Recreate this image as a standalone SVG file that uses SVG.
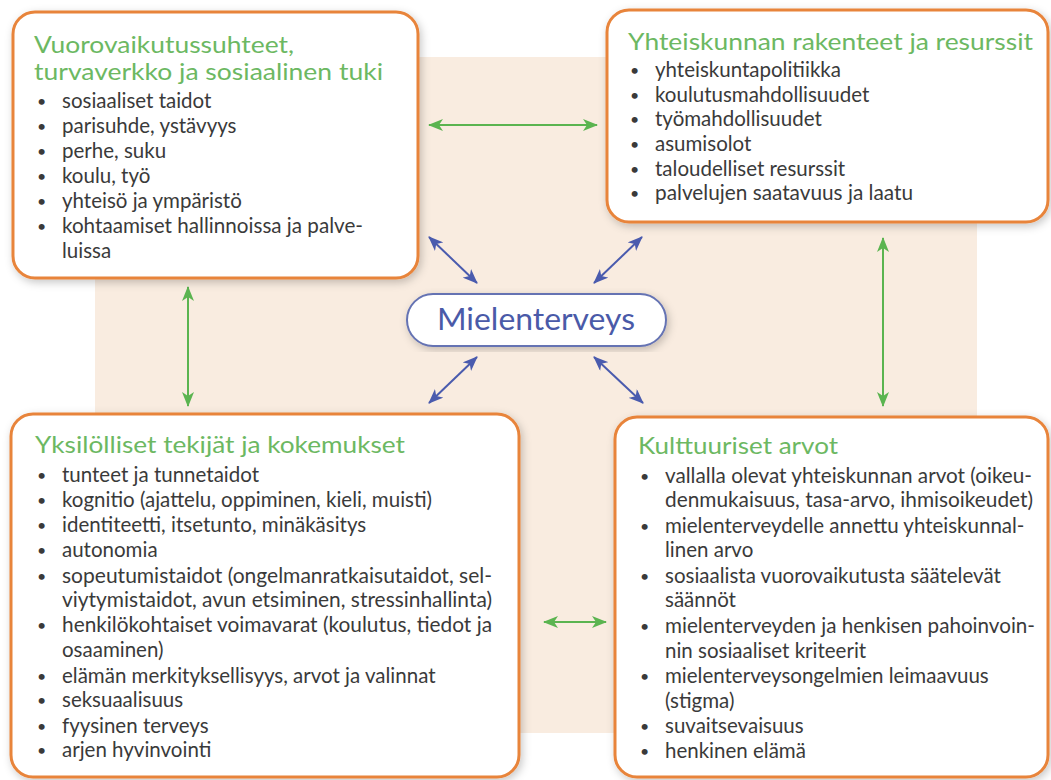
<svg xmlns="http://www.w3.org/2000/svg" width="1051" height="780" viewBox="0 0 1051 780">
<style>
.box{fill:#fff;stroke:#E8843A;stroke-width:3;filter:url(#sh)}
.title{font-family:Lato,"Open Sans",sans-serif;font-size:24px;fill:#6CB862}
.t{font-family:Lato,"Open Sans",sans-serif;font-size:20.5px;fill:#3a3a3a}
.t2{font-family:Lato,"Open Sans",sans-serif;font-size:20.5px;fill:#3a3a3a}
.bl{font-size:16px}
.g{stroke:#5BB450;stroke-width:2;fill:none;marker-start:url(#ga);marker-end:url(#ga)}
.b{stroke:#4A5BAE;stroke-width:2;fill:none;marker-start:url(#ba);marker-end:url(#ba)}
</style>
<defs>
<filter id="sh" x="-10%" y="-10%" width="120%" height="120%">
<feDropShadow dx="2" dy="3" stdDeviation="4" flood-color="#000" flood-opacity="0.22"/>
</filter>
<marker id="ga" viewBox="0 0 15 12" refX="14" refY="6" markerWidth="15" markerHeight="12" markerUnits="userSpaceOnUse" orient="auto-start-reverse">
<path d="M0,0 L15,6 L0,12 L4,6 Z" fill="#5BB450"/>
</marker>
<marker id="ba" viewBox="0 0 15 12" refX="14" refY="6" markerWidth="15" markerHeight="12" markerUnits="userSpaceOnUse" orient="auto-start-reverse">
<path d="M0,0 L15,6 L0,12 L4,6 Z" fill="#4A5BAE"/>
</marker>
</defs>
<rect x="0" y="0" width="1051" height="780" fill="#fff"/>
<rect x="95" y="57" width="882" height="676" fill="#F9ECE0"/>

<g id="connectors">
<line class="g" x1="429" y1="125" x2="597" y2="125"/>
<line class="g" x1="188" y1="287" x2="188" y2="406"/>
<line class="g" x1="883" y1="238" x2="883" y2="406"/>
<line class="g" x1="544" y1="622" x2="606" y2="622"/>
<line class="b" x1="429" y1="237" x2="477" y2="283"/>
<line class="b" x1="642" y1="237" x2="594" y2="283"/>
<line class="b" x1="477" y1="357" x2="429" y2="403"/>
<line class="b" x1="594" y1="357" x2="643" y2="403"/>
</g>

<g id="node-vuorovaikutus">
<rect class="box" x="13" y="12" width="405" height="266" rx="22"/>
<text class="title" x="34" y="53" textLength="260" lengthAdjust="spacingAndGlyphs">Vuorovaikutussuhteet,</text>
<text class="title" x="34" y="80" textLength="349" lengthAdjust="spacingAndGlyphs">turvaverkko ja sosiaalinen tuki</text>
<g class="t">
<text class="bl" x="37" y="107">•</text><text x="62" y="108">sosiaaliset taidot</text>
<text class="bl" x="37" y="132">•</text><text x="62" y="133">parisuhde, ystävyys</text>
<text class="bl" x="37" y="157">•</text><text x="62" y="158">perhe, suku</text>
<text class="bl" x="37" y="182">•</text><text x="62" y="183">koulu, työ</text>
<text class="bl" x="37" y="207">•</text><text x="62" y="208">yhteisö ja ympäristö</text>
<text class="bl" x="37" y="232">•</text><text x="62" y="233" textLength="301" lengthAdjust="spacingAndGlyphs">kohtaamiset hallinnoissa ja palve-</text>
<text x="62" y="258">luissa</text>
</g>
</g>

<g id="node-yhteiskunta">
<rect class="box" x="607" y="10" width="441" height="212" rx="22"/>
<text class="title" x="628" y="50" textLength="405" lengthAdjust="spacingAndGlyphs">Yhteiskunnan rakenteet ja resurssit</text>
<g class="t">
<text class="bl" x="630" y="76">•</text><text x="655" y="77">yhteiskuntapolitiikka</text>
<text class="bl" x="630" y="101">•</text><text x="655" y="102">koulutusmahdollisuudet</text>
<text class="bl" x="630" y="125">•</text><text x="655" y="126">työmahdollisuudet</text>
<text class="bl" x="630" y="150">•</text><text x="655" y="151">asumisolot</text>
<text class="bl" x="630" y="175">•</text><text x="655" y="176">taloudelliset resurssit</text>
<text class="bl" x="630" y="199">•</text><text x="655" y="200" textLength="258" lengthAdjust="spacingAndGlyphs">palvelujen saatavuus ja laatu</text>
</g>
</g>

<g id="node-mielenterveys">
<rect x="407" y="294" width="259" height="52" rx="26" fill="#fff" stroke="#6573B3" stroke-width="2" filter="url(#sh)"/>
<text x="536" y="330" text-anchor="middle" font-family="Lato,'Open Sans',sans-serif" font-size="30" fill="#4A5AA8" textLength="198" lengthAdjust="spacingAndGlyphs">Mielenterveys</text>
</g>

<g id="node-yksilolliset">
<rect class="box" x="11" y="414" width="508" height="363" rx="22"/>
<text class="title" x="35" y="453" textLength="370" lengthAdjust="spacingAndGlyphs">Yksilölliset tekijät ja kokemukset</text>
<g class="t2">
<text class="bl" x="37" y="481">•</text><text x="62" y="482">tunteet ja tunnetaidot</text>
<text class="bl" x="37" y="506">•</text><text x="62" y="507">kognitio (ajattelu, oppiminen, kieli, muisti)</text>
<text class="bl" x="37" y="531">•</text><text x="62" y="532">identiteetti, itsetunto, minäkäsitys</text>
<text class="bl" x="37" y="556">•</text><text x="62" y="557">autonomia</text>
<text class="bl" x="37" y="582">•</text><text x="62" y="583" textLength="430" lengthAdjust="spacingAndGlyphs">sopeutumistaidot (ongelmanratkaisutaidot, sel-</text>
<text x="62" y="607" textLength="430" lengthAdjust="spacingAndGlyphs">viytymistaidot, avun etsiminen, stressinhallinta)</text>
<text class="bl" x="37" y="631">•</text><text x="62" y="632" textLength="430" lengthAdjust="spacingAndGlyphs">henkilökohtaiset voimavarat (koulutus, tiedot ja</text>
<text x="62" y="657">osaaminen)</text>
<text class="bl" x="37" y="682">•</text><text x="62" y="683">elämän merkityksellisyys, arvot ja valinnat</text>
<text class="bl" x="37" y="706">•</text><text x="62" y="707">seksuaalisuus</text>
<text class="bl" x="37" y="732">•</text><text x="62" y="733">fyysinen terveys</text>
<text class="bl" x="37" y="756">•</text><text x="62" y="757">arjen hyvinvointi</text>
</g>
</g>

<g id="node-kulttuuriset">
<rect class="box" x="615" y="417" width="433" height="360" rx="22"/>
<text class="title" x="638" y="454" textLength="200" lengthAdjust="spacingAndGlyphs">Kulttuuriset arvot</text>
<g class="t2">
<text class="bl" x="640" y="482">•</text><text x="665" y="483" textLength="367" lengthAdjust="spacingAndGlyphs">vallalla olevat yhteiskunnan arvot (oikeu-</text>
<text x="665" y="507" textLength="368" lengthAdjust="spacingAndGlyphs">denmukaisuus, tasa-arvo, ihmisoikeudet)</text>
<text class="bl" x="640" y="532">•</text><text x="665" y="533">mielenterveydelle annettu yhteiskunnal-</text>
<text x="665" y="557">linen arvo</text>
<text class="bl" x="640" y="582">•</text><text x="665" y="583">sosiaalista vuorovaikutusta säätelevät</text>
<text x="665" y="607">säännöt</text>
<text class="bl" x="640" y="632">•</text><text x="665" y="633" textLength="370" lengthAdjust="spacingAndGlyphs">mielenterveyden ja henkisen pahoinvoin-</text>
<text x="665" y="658">nin sosiaaliset kriteerit</text>
<text class="bl" x="640" y="682">•</text><text x="665" y="683">mielenterveysongelmien leimaavuus</text>
<text x="665" y="708">(stigma)</text>
<text class="bl" x="640" y="732">•</text><text x="665" y="733">suvaitsevaisuus</text>
<text class="bl" x="640" y="757">•</text><text x="665" y="758">henkinen elämä</text>
</g>
</g>
</svg>
